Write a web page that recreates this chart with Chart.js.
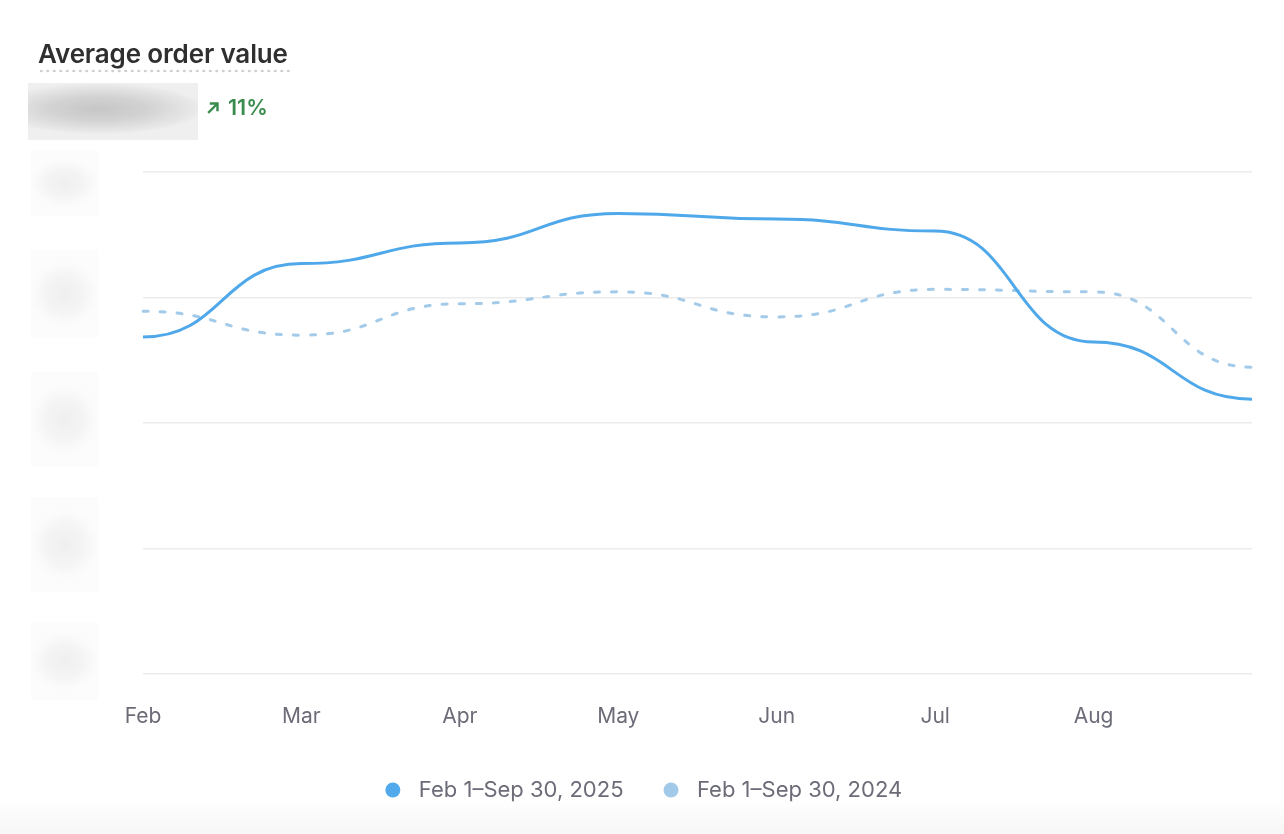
<!DOCTYPE html>
<html>
<head>
<meta charset="utf-8">
<script src="https://cdn.jsdelivr.net/npm/chart.js@4"></script>
<style>
  html, body { margin: 0; padding: 0; }
  body {
    width: 1284px; height: 834px; overflow: hidden; position: relative;
    font-family: Inter, "Noto Sans", sans-serif;
    background: linear-gradient(to bottom, #ffffff 0px, #ffffff 800px, #f6f6f6 834px);
  }
  #chartBox { position: absolute; left: 0; top: 0; width: 1284px; height: 834px; }
  .title {
    position: absolute; left: 38px; top: 39px; font-size: 26px; font-weight: 600;
    color: #2f2f2f; line-height: 30px; letter-spacing: -0.15px;
  }
  .underline {
    position: absolute; left: 38px; top: 69px; width: 253px; height: 4px;
    background-image: radial-gradient(circle, #cfcfcf 1.2px, transparent 1.6px);
    background-size: 6.5px 4px; background-repeat: repeat-x;
  }
  .valueBlur {
    position: absolute; left: 28px; top: 83px; width: 170px; height: 57px;
    background: radial-gradient(ellipse 62% 45% at 42% 45%, #c6c6c6 0%, #d2d2d2 45%, #e8e8e8 90%, #efefef 100%);
  }
  .delta {
    position: absolute; left: 207px; top: 94px; height: 26px; display: flex; align-items: center;
    color: #3a8c4e; font-size: 21.5px; font-weight: 600;
  }
  .delta svg { margin-right: 8px; }
  .yBlur {
    position: absolute; left: 31px; width: 67px;
    background: radial-gradient(ellipse 55% 40% at 50% 50%, #efefef 0%, #f4f4f4 50%, #fbfbfb 85%, #fcfcfc 100%);
  }
</style>
</head>
<body>
<div id="chartBox"><canvas id="aovChart"></canvas></div>
<div class="title">Average order value</div>
<div class="underline"></div>
<div class="valueBlur"></div>
<div class="delta">
  <svg width="13" height="13" viewBox="0 0 13 13"><path d="M2 11 L10 3 M4 2.5 H10.5 V9" stroke="#3a8c4e" stroke-width="2.4" fill="none" stroke-linecap="square"/></svg>
  <span>11%</span>
</div>
<div class="yBlur" style="top:150px;height:66px"></div>
<div class="yBlur" style="top:250px;height:88px"></div>
<div class="yBlur" style="top:372px;height:95px"></div>
<div class="yBlur" style="top:497px;height:95px"></div>
<div class="yBlur" style="top:622px;height:78px"></div>
<script>
const months = ['Feb', 'Mar', 'Apr', 'May', 'Jun', 'Jul', 'Aug', 'Sep'];
const current = [53.7, 65.4, 68.7, 73.4, 72.5, 70.6, 52.9, 43.8];
const previous = [57.8, 54.0, 59.0, 60.9, 56.9, 61.3, 60.9, 48.9];
const seriesNames = ['Feb 1\u2013Sep 30, 2025', 'Feb 1\u2013Sep 30, 2024'];

// smooth each segment with flat tangents at the points (bump style)
const bumpCurve = {
    id: 'bumpCurve',
    beforeDatasetDraw(chart, args) {
        const meta = args.meta;
        const pts = meta.data;
        meta.dataset.updateControlPoints(chart.chartArea, 'x');
        for (let i = 0; i < pts.length; i++) {
            const p = pts[i];
            const prev = pts[i - 1];
            const next = pts[i + 1];
            p.cp1x = prev ? (prev.x + p.x) / 2 : p.x;
            p.cp1y = p.y;
            p.cp2x = next ? (p.x + next.x) / 2 : p.x;
            p.cp2y = p.y;
        }
        meta.dataset._path = undefined;
    }
};

const ctx = document.getElementById('aovChart').getContext('2d');
const chart = new Chart(ctx, {
    type: 'line',
    data: {
        labels: months,
        datasets: [{
            label: seriesNames[0],
            data: current,
            borderColor: '#4fa8ea',
            backgroundColor: '#52a9ec',
            borderWidth: 3,
            tension: 0.4,
            pointRadius: 0,
            pointHoverRadius: 0
        }, {
            label: seriesNames[1],
            data: previous,
            borderColor: '#a3cbe9',
            backgroundColor: '#a2c9e8',
            borderWidth: 3,
            borderDash: [5, 12],
            borderCapStyle: 'round',
            tension: 0.4,
            pointRadius: 0,
            pointHoverRadius: 0
        }]
    },
    options: {
        responsive: true,
        maintainAspectRatio: false,
        animation: false,
        layout: {
            padding: { top: 172, left: 32, right: 32, bottom: 23 }
        },
        scales: {
            x: {
                grid: { display: false },
                border: { display: false },
                ticks: {
                    color: '#6c6c78',
                    font: { family: 'Inter', size: 21 },
                    padding: 22,
                    maxRotation: 0,
                    autoSkip: false,
                    callback: function (value, index) {
                        return index === months.length - 1 ? '' : months[index];
                    }
                },
                afterFit: function (scale) {
                    scale.height = 68.5;
                }
            },
            y: {
                min: 0,
                max: 80,
                grid: { color: '#ececec', lineWidth: 1.5, drawTicks: false },
                border: { display: false },
                ticks: { display: false, stepSize: 20 },
                afterFit: function (scale) {
                    // room for the hidden value labels
                    scale.width = 111;
                }
            }
        },
        plugins: {
            legend: {
                position: 'bottom',
                labels: {
                    usePointStyle: true,
                    pointStyle: 'circle',
                    boxHeight: 10.6,
                    padding: 36.5,
                    color: '#6c6c78',
                    font: { family: 'Inter', size: 22 },
                    generateLabels: function (c) {
                        return Chart.defaults.plugins.legend.labels.generateLabels(c).map(function (item) {
                            item.text = '\u2009' + item.text;
                            item.lineWidth = 0;
                            return item;
                        });
                    }
                }
            },
            tooltip: { enabled: false }
        }
    },
    plugins: [bumpCurve]
});
</script>
</body>
</html>
